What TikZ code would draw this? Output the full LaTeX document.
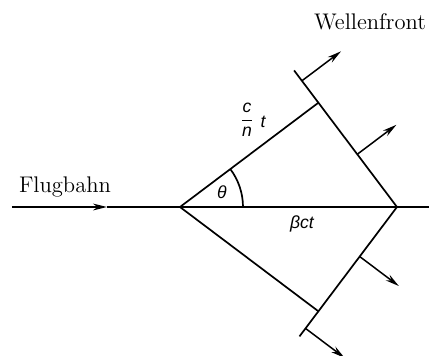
\documentclass[tikz,border=0pt]{standalone}
\usepackage{fontspec}
\newfontfamily\labfont{Liberation Sans}
\usetikzlibrary{arrows.meta,calc}
\begin{document}
\begin{tikzpicture}[x=0.5pt,y=0.5pt,
  ln/.style={line width=0.85pt},
  tip/.style={-{Stealth[length=7pt,width=3.4pt]}},
  arr/.style={line width=0.75pt,tip},
  lab/.style={font=\labfont\itshape\fontsize{8.8}{10}\selectfont, inner sep=0pt},
  txt/.style={font=\fontsize{11.3}{13}\selectfont, inner sep=0pt}]
\useasboundingbox (-180,-148) rectangle (249,207);
\def\th{37}
\coordinate (A) at (0,0);
\coordinate (P) at (217,0);
\coordinate (L) at (-168,0);
\coordinate (R) at (249,0);
\coordinate (M) at (-73,0);
% upper wavefront
\coordinate (F1) at ($(P)+(90+\th:130.6)$);
\coordinate (T1) at ($(P)+(90+\th:171)$);
\coordinate (B1) at ($(P)+(90+\th:66)$);
\coordinate (B2) at ($(P)+(90+\th:158)$);
\coordinate (E1) at ($(B1)+(\th:49)$);
\coordinate (E2) at ($(B2)+(\th:49)$);
% lower wavefront
\coordinate (F2) at ($(P)+(-90-\th:130.6)$);
\coordinate (T2) at ($(P)+(-90-\th:162)$);
\coordinate (C1) at ($(P)+(-90-\th:62)$);
\coordinate (C2) at ($(P)+(-90-\th:152)$);
\coordinate (D1) at ($(C1)+(-\th:49)$);
\coordinate (D2) at ($(C2)+(-\th:49)$);
% flight path
\draw[ln,tip] (L) -- (M);
\draw[ln] (M) -- (R);
% cone lines
\draw[ln] (A) -- (F1);
\draw[ln] (A) -- (F2);
% wavefronts
\draw[ln] (P) -- (T1);
\draw[ln] (P) -- (T2);
% arrows
\draw[arr] (B1) -- (E1);
\draw[arr] (B2) -- (E2);
\draw[arr] (C1) -- (D1);
\draw[arr] (C2) -- (D2);
% angle
\draw[ln] ($(A)+(0:63)$) arc[start angle=0,end angle=\th,radius=63];
% labels
\node[txt] (flug) at (-115,20) {Flugbahn};
\node[txt] (welle) at (190,185) {Wellenfront};
\node[lab] (theta) at (42,15) {θ};
\node[lab] (bct) at (122,-17) {βct};
\node[lab] (frac) at (67,87) {$\displaystyle\frac{\mbox{\labfont\itshape c}}{\mbox{\labfont\itshape n}}$};
\node[lab] (tt) at (83,85) {t};
\end{tikzpicture}
\end{document}
